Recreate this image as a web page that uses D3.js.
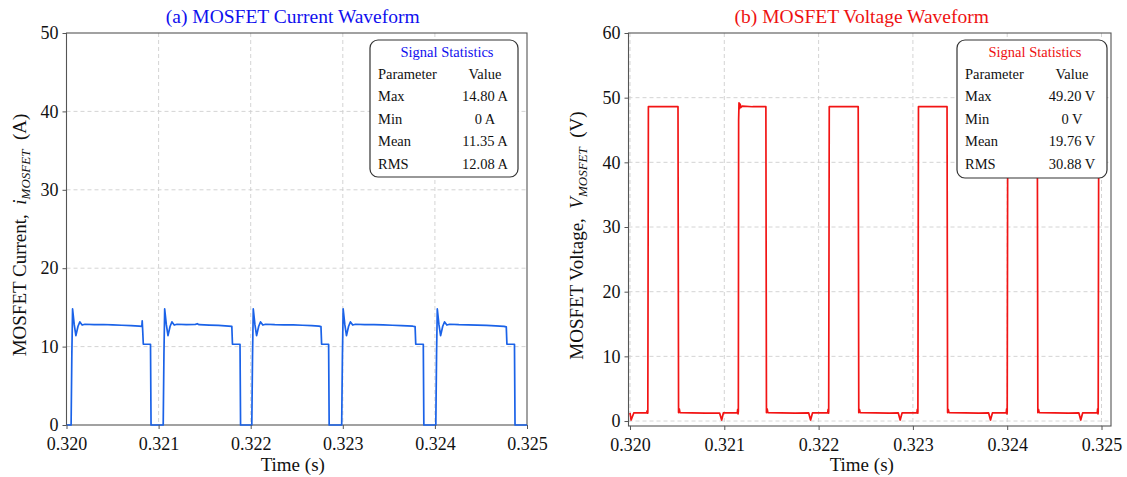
<!DOCTYPE html>
<html>
<head>
<meta charset="utf-8">
<script src="https://cdn.jsdelivr.net/npm/d3@7/dist/d3.min.js"></script>
<style>
  body { margin: 0; background: #fff; }
  svg { display: block; font-family: "Liberation Serif", "Times New Roman", serif; }
</style>
</head>
<body>
<svg id="chart" width="1127" height="477"></svg>
<script>
// ---- data -------------------------------------------------------------
const T_START = 0.320;                       // s, start of the time window
const timeTicks = [0.320, 0.321, 0.322, 0.323, 0.324, 0.325];
const currentTicks = [0, 10, 20, 30, 40, 50];
const voltageTicks = [0, 10, 20, 30, 40, 50, 60];

// MOSFET drain current: [time after T_START (ms), current (A)]
const currentWave = [
  [0.000, 0], [0.050, 0], [0.058, 9.0], [0.066, 14.8], [0.084, 12.8], [0.102, 11.4],
  [0.125, 12.6], [0.145, 13.15], [0.170, 12.75], [0.200, 12.85], [0.300, 12.8],
  [0.400, 12.82], [0.500, 12.76], [0.600, 12.72], [0.700, 12.68], [0.790, 12.62],
  [0.818, 12.58], [0.822, 13.3], [0.828, 11.9], [0.834, 10.3], [0.912, 10.3], [0.918, 0],
  [1.050, 0], [1.058, 9.0], [1.066, 14.8], [1.084, 12.8], [1.102, 11.4], [1.125, 12.6],
  [1.145, 13.15], [1.170, 12.75], [1.200, 12.85], [1.300, 12.8], [1.400, 12.84],
  [1.420, 12.92], [1.440, 12.8], [1.550, 12.74], [1.650, 12.7], [1.760, 12.62],
  [1.795, 12.58], [1.802, 10.3], [1.884, 10.3], [1.890, 0],
  [2.012, 0], [2.020, 9.0], [2.028, 14.8], [2.046, 12.8], [2.064, 11.4], [2.087, 12.6],
  [2.107, 13.15], [2.132, 12.75], [2.162, 12.85], [2.262, 12.8], [2.362, 12.78],
  [2.462, 12.76], [2.562, 12.72], [2.662, 12.68], [2.740, 12.62], [2.763, 12.55],
  [2.770, 10.3], [2.846, 10.3], [2.852, 0],
  [2.988, 0], [2.996, 9.0], [3.004, 14.8], [3.022, 12.8], [3.040, 11.4], [3.063, 12.6],
  [3.083, 13.15], [3.108, 12.75], [3.138, 12.85], [3.238, 12.8], [3.338, 12.8],
  [3.438, 12.76], [3.538, 12.72], [3.638, 12.68], [3.760, 12.6], [3.785, 12.55],
  [3.792, 10.3], [3.874, 10.3], [3.880, 0],
  [4.010, 0], [4.018, 9.0], [4.026, 14.8], [4.044, 12.8], [4.062, 11.4], [4.085, 12.6],
  [4.105, 13.15], [4.130, 12.75], [4.160, 12.85], [4.260, 12.8], [4.360, 12.78],
  [4.460, 12.74], [4.560, 12.7], [4.660, 12.64], [4.750, 12.58], [4.775, 12.52],
  [4.782, 10.3], [4.864, 10.3], [4.870, 0], [5.000, 0]
];

// MOSFET drain-source voltage: [time after T_START (ms), voltage (V)]
const voltageWave = [
  [0.000, 1.25], [0.012, 0.15], [0.040, 1.25], [0.100, 1.28], [0.175, 1.25], [0.183, 1.6],
  [0.187, 1.2], [0.189, 1.3], [0.195, 48.6], [0.300, 48.62], [0.400, 48.6], [0.509, 48.6],
  [0.515, 1.3], [0.522, 1.9], [0.530, 1.3], [0.650, 1.25], [0.800, 1.22], [0.950, 1.24],
  [0.972, 0.15], [0.990, 1.25], [1.100, 1.26], [1.138, 1.3], [1.142, 1.8], [1.146, 1.1],
  [1.149, 1.5], [1.152, 46.5], [1.156, 49.2], [1.162, 48.3], [1.168, 49.0], [1.176, 48.5],
  [1.190, 48.7], [1.300, 48.6], [1.441, 48.6], [1.447, 1.3], [1.454, 1.9], [1.462, 1.3],
  [1.600, 1.25], [1.750, 1.22], [1.895, 1.25], [1.915, 0.15], [1.935, 1.25], [2.050, 1.27],
  [2.097, 1.3], [2.101, 1.8], [2.105, 1.2], [2.107, 1.4], [2.113, 48.6], [2.250, 48.6],
  [2.420, 48.6], [2.426, 1.3], [2.433, 1.8], [2.441, 1.3], [2.600, 1.25], [2.750, 1.22],
  [2.845, 1.25], [2.865, 0.15], [2.885, 1.25], [3.000, 1.27], [3.043, 1.3], [3.047, 1.8],
  [3.051, 1.2], [3.053, 1.4], [3.059, 48.6], [3.200, 48.6], [3.362, 48.6], [3.368, 1.3],
  [3.375, 1.8], [3.383, 1.3], [3.550, 1.25], [3.700, 1.22], [3.803, 1.25], [3.823, 0.15],
  [3.843, 1.25], [3.950, 1.27], [3.990, 1.3], [3.994, 1.9], [3.998, 1.1], [4.000, 1.4],
  [4.006, 48.6], [4.150, 48.6], [4.319, 48.6], [4.325, 1.3], [4.332, 1.8], [4.340, 1.3],
  [4.500, 1.25], [4.650, 1.22], [4.760, 1.25], [4.780, 0.15], [4.800, 1.25], [4.900, 1.27],
  [4.955, 1.3], [4.959, 1.9], [4.963, 1.1], [4.965, 1.4], [4.971, 48.6], [4.990, 48.6]
];

const statNames = ["Max", "Min", "Mean", "RMS"];
const currentStatValues = ["14.80 A", "0 A", "11.35 A", "12.08 A"];
const voltageStatValues = ["49.20 V", "0 V", "19.76 V", "30.88 V"];

// ---- drawing ----------------------------------------------------------
const svg = d3.select("#chart");
const SPINE = "#555";
const TEXT = "#111";

function drawPanel(p) {
  const g = svg.append("g");
  const x = d3.scaleLinear().domain(p.xDomain).range([p.left, p.right]);
  const y = d3.scaleLinear().domain(p.yDomain).range([p.bottom, p.top]);

  // dashed grid
  g.append("g").selectAll("line").data(p.xTicks.filter(t => x(t) > p.left + 0.5 && x(t) < p.right - 0.5)).join("line")
    .attr("x1", d => x(d)).attr("x2", d => x(d))
    .attr("y1", p.top).attr("y2", p.bottom)
    .attr("stroke", "#cfcfcf").attr("stroke-width", 0.9).attr("stroke-dasharray", "4,3");
  g.append("g").selectAll("line").data(p.yTicks.filter(t => y(t) > p.top + 0.5 && y(t) < p.bottom - 0.5)).join("line")
    .attr("x1", p.left).attr("x2", p.right)
    .attr("y1", d => y(d)).attr("y2", d => y(d))
    .attr("stroke", "#cfcfcf").attr("stroke-width", 0.9).attr("stroke-dasharray", "4,3");

  // frame
  g.append("rect")
    .attr("x", p.left).attr("y", p.top)
    .attr("width", p.right - p.left).attr("height", p.bottom - p.top)
    .attr("fill", "none").attr("stroke", SPINE).attr("stroke-width", 1.1);

  // waveform
  const clipId = "clip-" + p.id;
  svg.append("clipPath").attr("id", clipId).append("rect")
    .attr("x", p.left).attr("y", p.top - 2)
    .attr("width", p.right - p.left).attr("height", p.bottom - p.top + 4);
  const line = d3.line()
    .x(d => x(T_START + d[0] / 1000))
    .y(d => y(d[1]));
  g.append("path").datum(p.wave)
    .attr("clip-path", `url(#${clipId})`)
    .attr("d", line)
    .attr("fill", "none").attr("stroke", p.lineColor)
    .attr("stroke-width", 1.7).attr("stroke-linejoin", "round");

  // axes
  const xAxis = g.append("g").attr("transform", `translate(0,${p.bottom})`)
    .call(d3.axisBottom(x).tickValues(p.xTicks).tickFormat(d3.format(".3f")).tickSize(4).tickPadding(8));
  const yAxis = g.append("g").attr("transform", `translate(${p.left},0)`)
    .call(d3.axisLeft(y).tickValues(p.yTicks).tickFormat(d3.format("d")).tickSize(4).tickPadding(4));
  [xAxis, yAxis].forEach(a => {
    a.select(".domain").remove();
    a.selectAll(".tick line").attr("stroke", SPINE).attr("stroke-width", 1);
    a.selectAll(".tick text").attr("fill", TEXT)
      .style("font-family", '"Liberation Serif", serif').style("font-size", "18px");
  });

  // title
  g.append("text")
    .attr("x", (p.left + p.right) / 2 - p.titleShift).attr("y", 23)
    .attr("text-anchor", "middle").attr("fill", p.titleColor)
    .style("font-size", "19.5px")
    .text(p.title);

  // x label
  g.append("text")
    .attr("x", (p.left + p.right) / 2 - p.titleShift).attr("y", 471)
    .attr("text-anchor", "middle").attr("fill", TEXT)
    .style("font-size", "19px")
    .text("Time (s)");

  // y label with italic symbol and subscript
  const yl = g.append("text")
    .attr("transform", `translate(${p.yLabelX},${(p.top + p.bottom) / 2 + 6}) rotate(-90)`)
    .attr("text-anchor", "middle").attr("fill", TEXT)
    .style("font-size", "19px");
  yl.append("tspan").text(p.yLabelText + ",\u00a0\u00a0");
  yl.append("tspan").style("font-style", "italic").text(p.symbol);
  yl.append("tspan").style("font-style", "italic").style("font-size", "13px").attr("dy", 4).text("MOSFET");
  yl.append("tspan").attr("dy", -4).text("\u00a0\u00a0(" + p.unit + ")");

  // statistics box
  const b = p.box;
  const box = g.append("g");
  box.append("rect")
    .attr("x", b.x).attr("y", b.y).attr("width", b.w).attr("height", b.h)
    .attr("rx", 8).attr("ry", 8)
    .attr("fill", "#fff").attr("stroke", "#333").attr("stroke-width", 1.2);
  box.append("text")
    .attr("x", b.x + b.w / 2 + 3).attr("y", b.y + 17)
    .attr("text-anchor", "middle").attr("fill", p.titleColor)
    .style("font-size", "14.5px").text("Signal Statistics");
  const rows = [["Parameter", "Value"]].concat(statNames.map((n, i) => [n, p.stats[i]]));
  rows.forEach((r, i) => {
    const yy = b.y + 38.5 + i * 22.6;
    box.append("text").attr("x", b.x + 8).attr("y", yy)
      .attr("fill", TEXT).style("font-size", "14.5px").text(r[0]);
    box.append("text").attr("x", b.x + 115).attr("y", yy)
      .attr("text-anchor", "middle").attr("fill", TEXT).style("font-size", "14.5px").text(r[1]);
  });
}

drawPanel({
  id: "current",
  left: 66.5, right: 527, top: 33, bottom: 425,
  xDomain: [0.320, 0.325], yDomain: [0, 50],
  xTicks: timeTicks, yTicks: currentTicks,
  wave: currentWave, lineColor: "#1a62e8",
  title: "(a) MOSFET Current Waveform", titleColor: "#1010ee", titleShift: 4,
  yLabelText: "MOSFET Current", symbol: "i", unit: "A", yLabelX: 26,
  stats: currentStatValues,
  box: { x: 370, y: 40, w: 148, h: 137 }
});

drawPanel({
  id: "voltage",
  left: 628.5, right: 1111, top: 33, bottom: 426,
  xDomain: [0.3199841, 0.3251007], yDomain: [-0.77, 60],
  xTicks: timeTicks, yTicks: voltageTicks,
  wave: voltageWave, lineColor: "#f21414",
  title: "(b) MOSFET Voltage Waveform", titleColor: "#ee1111", titleShift: 8,
  yLabelText: "MOSFET Voltage", symbol: "V", unit: "V", yLabelX: 583,
  stats: voltageStatValues,
  box: { x: 957, y: 40, w: 150, h: 138 }
});
</script>
</body>
</html>
